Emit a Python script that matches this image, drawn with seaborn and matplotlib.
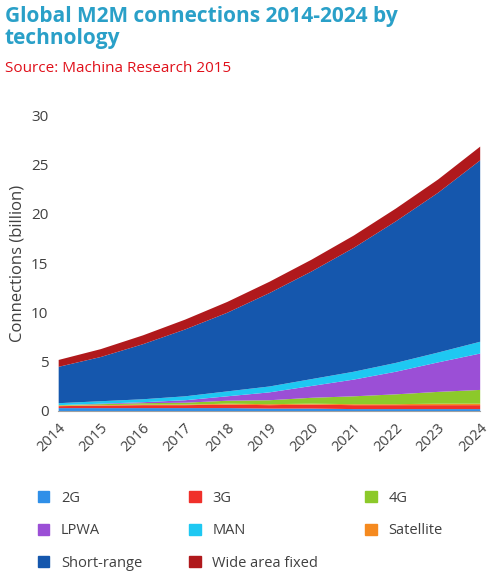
import seaborn as sns
import matplotlib.pyplot as plt
import numpy as np

years = list(range(2014, 2025))
g2 = [.3, .3, .3, .3, .3, .25, .25, .2, .2, .2, .2]
g3 = [.2, .25, .3, .3, .35, .35, .4, .4, .4, .4, .4]
satellite = [.05, .05, .05, .05, .1, .1, .1, .1, .1, .15, .15]
g4 = [.05, .1, .15, .2, .3, .4, .6, .8, 1.0, 1.2, 1.4]
lpwa = [0, .05, .1, .25, .45, .8, 1.2, 1.7, 2.3, 3.0, 3.7]
man = [.2, .25, .3, .4, .5, .6, .7, .8, .9, 1.0, 1.2]
short_range = [3.7, 4.5, 5.6, 6.8, 8.0, 9.5, 10.95, 12.6, 14.4, 16.25, 18.45]
wide_area = [.7, .8, .9, 1.0, 1.1, 1.15, 1.2, 1.25, 1.3, 1.35, 1.4]

sns.set_style('white')
plt.rcParams['font.family'] = ['Open Sans', 'DejaVu Sans']

fig = plt.figure(figsize=(4.93, 5.84), dpi=100)
ax = fig.add_axes([0.118, 0.297, 0.855, 0.505])

stack = [g2, g3, satellite, g4, lpwa, man, short_range, wide_area]
colors = ['#2f8fe8', '#f0302a', '#f58a1f', '#8cc92a', '#9b4fd6', '#1ec8f2', '#1557ad', '#b0191c']
ax.stackplot(years, *stack, colors=colors, linewidth=0)

ax.set_xlim(2014, 2024)
ax.set_ylim(0, 30)
ax.set_yticks(range(0, 31, 5))
ax.set_xticks(years)
ax.set_xticklabels(years, rotation=45, ha='right', rotation_mode='anchor', fontsize=10.5, color='#404040')
ax.tick_params(axis='y', labelsize=11, colors='#404040')
ax.set_ylabel('Connections (billion)', fontsize=12, color='#404040')
for s in ['top', 'right', 'left']:
    ax.spines[s].set_visible(False)
ax.spines['bottom'].set_color('#a0a0a0')

fig.text(0.01, 0.99, 'Global M2M connections 2014-2024 by\ntechnology', fontsize=15, fontweight='bold',
         color='#2aa0c8', va='top', linespacing=1.1)
fig.text(0.01, 0.895, 'Source: Machina Research 2015', fontsize=11, color='#e0101a', va='top')

# column-major fill, so order gives row-wise reading like the reference
labels = ['2G', 'LPWA', 'Short-range', '3G', 'MAN', 'Wide area fixed', '4G', 'Satellite']
lcol = {'2G': colors[0], '3G': colors[1], 'Satellite': colors[2], '4G': colors[3], 'LPWA': colors[4],
        'MAN': colors[5], 'Short-range': colors[6], 'Wide area fixed': colors[7]}
handles = [plt.Rectangle((0, 0), 1, 1, color=lcol[l]) for l in labels]
fig.legend(handles, labels, loc='lower left', bbox_to_anchor=(0.05, 0.0), ncol=3, frameon=False,
           fontsize=10.5, handlelength=0.8, handleheight=0.8, columnspacing=3.2, labelspacing=1.2,
           labelcolor='#404040')

fig.savefig('out.png', dpi=100)
